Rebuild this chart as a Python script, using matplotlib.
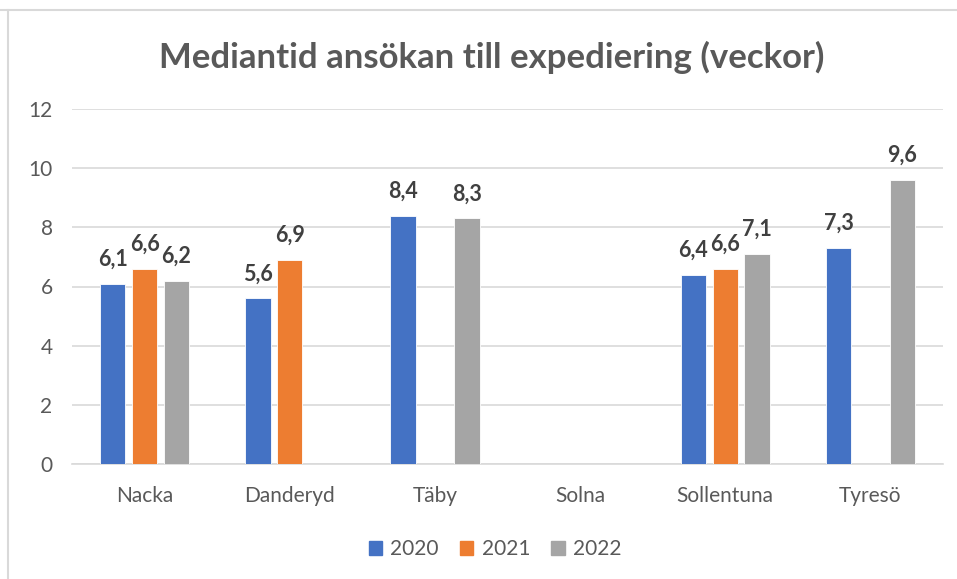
import matplotlib
matplotlib.use("Agg")
import matplotlib.pyplot as plt
import numpy as np
from matplotlib.lines import Line2D

categories = ["Nacka", "Danderyd", "Täby", "Solna", "Sollentuna", "Tyresö"]
series_names = ["2020", "2021", "2022"]
v2020 = [6.1, 5.6, 8.4, None, 6.4, 7.3]
v2021 = [6.6, 6.9, None, None, 6.6, None]
v2022 = [6.2, None, 8.3, None, 7.1, 9.6]
colors = ["#4472C4", "#ED7D31", "#A5A5A5"]
yticks = [0, 2, 4, 6, 8, 10, 12]

plt.rcParams['font.family'] = ['Lato', 'DejaVu Sans']
fig = plt.figure(figsize=(9.57, 5.79), dpi=100)
ax = fig.add_axes([72/957, 115/579, 871/957, 355/579])

x = np.arange(len(categories))
step = 0.22
width = 0.175
for i, (vals, c, name) in enumerate(zip([v2020, v2021, v2022], colors, series_names)):
    xs = [xi + (i - 1) * step for xi, v in zip(x, vals) if v is not None]
    ys = [v for v in vals if v is not None]
    ax.bar(xs, ys, width=width, color=c, edgecolor="white", linewidth=0.6, zorder=3, label=name)
    for xx, yy in zip(xs, ys):
        ax.annotate(f"{yy:.1f}".replace(".", ","), (xx, yy), xytext=(0, 10), textcoords="offset points",
                    ha="center", va="bottom", fontsize=15.5, fontweight="bold", color="#404040")

ax.set_xlim(-0.5, len(categories) - 0.5)
ax.set_ylim(0, 12)
ax.set_yticks(yticks)
ax.set_yticklabels([str(t) for t in yticks])
ax.set_xticks(x)
ax.set_xticklabels(categories)
ax.grid(axis="y", color="#D9D9D9", linewidth=1.2, zorder=0)
for s in ["top", "right", "left"]:
    ax.spines[s].set_visible(False)
ax.spines["bottom"].set_color("#D9D9D9")
ax.spines["bottom"].set_linewidth(1.2)
ax.tick_params(axis="both", length=0, labelsize=15, colors="#595959")
ax.tick_params(axis="x", pad=16)
ax.tick_params(axis="y", pad=14)

fig.text(492/957, 1 - 57/579, "Mediantid ansökan till expediering (veckor)", ha="center", va="center",
         fontsize=25, fontweight="bold", color="#595959")

handles = [plt.Rectangle((0, 0), 1, 1, color=c) for c in colors]
leg = fig.legend(handles, series_names, loc="center", bbox_to_anchor=(495/957, 1 - 549/579), ncol=3,
                 frameon=False, fontsize=15, handlelength=0.65, handleheight=0.65, handletextpad=0.4,
                 columnspacing=1.0)
for t in leg.get_texts():
    t.set_color("#595959")

fig.add_artist(Line2D([0, 1], [1 - 10/579, 1 - 10/579], transform=fig.transFigure, color="#D9D9D9", linewidth=1.5))
fig.add_artist(Line2D([8/957, 8/957], [0, 1 - 10/579], transform=fig.transFigure, color="#D9D9D9", linewidth=1.5))

fig.savefig("out.png", dpi=100)
